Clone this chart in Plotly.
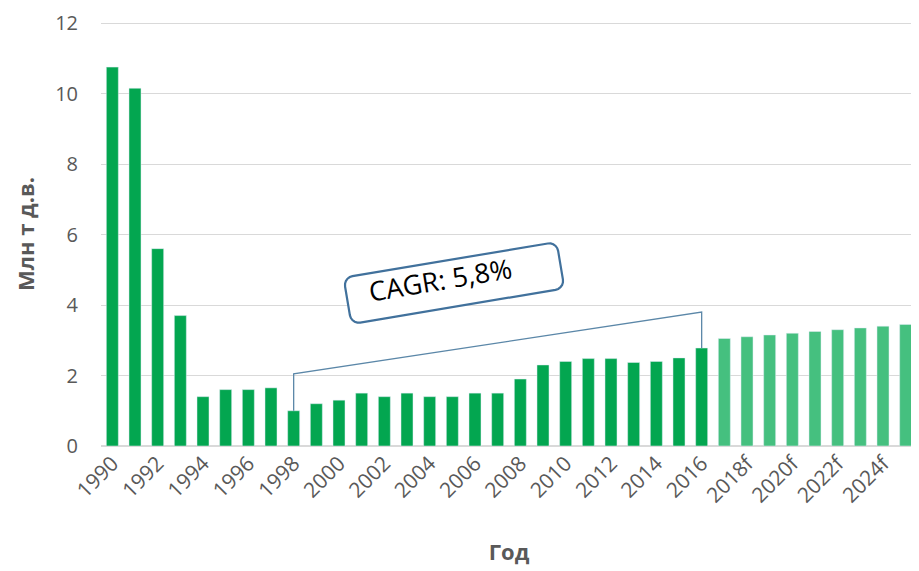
import numpy as np
import plotly.graph_objects as go

years = [str(y) for y in range(1990, 2017)]
years_f = [str(y) + "f" for y in range(2017, 2026)]

values = [10.75, 10.15, 5.6, 3.7, 1.4, 1.6, 1.6, 1.65, 1.0, 1.2, 1.3, 1.5, 1.4,
          1.5, 1.4, 1.4, 1.5, 1.5, 1.9, 2.3, 2.4, 2.48, 2.48, 2.37, 2.4, 2.5, 2.78]
values_f = [3.05, 3.1, 3.15, 3.2, 3.25, 3.3, 3.35, 3.4, 3.45]

cagr_text = "CAGR: 5,8%"
cagr_from, cagr_to = "1998", "2016"

cats = years + years_f
grey = "#595959"

fig = go.Figure()
fig.add_trace(go.Bar(x=years, y=values, marker_color="#03A650", width=0.53))
fig.add_trace(go.Bar(x=years_f, y=values_f, marker_color="#45C07F", width=0.53))

# bracket line for CAGR
i0, i1 = cats.index(cagr_from), cats.index(cagr_to)
v0, v1 = values[i0], values[i1]
fig.add_shape(type="path",
              path=f"M {i0},{v0} L {i0},{2.05} L {i1},{3.8} L {i1},{v1}",
              line=dict(color="#5B87A8", width=1.3), xref="x", yref="y")

# plot area in page pixels (page body has an 8px margin)
L, T, W, H = 101, 22, 816, 424
off = 8

# rotated rounded box (pixel geometry -> paper)
cx, cy, bw, bh, r, ang = 454, 283, 216, 47, 9, np.deg2rad(-9.5)
pts = []
for (ox, oy, a0) in [(bw/2 - r, -bh/2 + r, -90), (bw/2 - r, bh/2 - r, 0),
                     (-bw/2 + r, bh/2 - r, 90), (-bw/2 + r, -bh/2 + r, 180)]:
    for a in np.linspace(a0, a0 + 90, 6):
        pts.append((ox + r*np.cos(np.deg2rad(a)), oy + r*np.sin(np.deg2rad(a))))
path = ""
for k, (px, py) in enumerate(pts):
    rx = cx + px*np.cos(ang) - py*np.sin(ang)
    ry = cy + px*np.sin(ang) + py*np.cos(ang)
    xp, yp = (rx - L)/W, (T + H - ry)/H
    path += ("M" if k == 0 else "L") + f" {xp:.4f},{yp:.4f} "
path += "Z"
fig.add_shape(type="path", path=path, xref="paper", yref="paper",
              line=dict(color="#41719C", width=2.2), fillcolor="white")
fig.add_annotation(x=(cx - 14 - L)/W, y=(T + H - cy + 3)/H, xref="paper", yref="paper",
                   text=cagr_text, showarrow=False, textangle=-9.5,
                   font=dict(size=27, color="black", family="Open Sans"))

fig.update_layout(
    width=919, height=571,
    margin=dict(l=L - off, r=919 - (L - off) - W, t=T - off, b=571 - (T - off) - H),
    plot_bgcolor="white", paper_bgcolor="white",
    showlegend=False, barmode="overlay",
    font=dict(family="Open Sans", color=grey),
)
fig.update_xaxes(categoryorder="array", categoryarray=cats,
                 tickvals=cats[::2], tickangle=-45, automargin=False,
                 tickfont=dict(size=21, color=grey), showgrid=False,
                 title=dict(text="<b>Год</b>", font=dict(size=22, color=grey), standoff=37),
                 range=[-0.5, len(cats) - 0.5])
fig.update_yaxes(range=[0, 12.03], dtick=2, showgrid=True, gridcolor="#D9D9D9",
                 gridwidth=1.3, zeroline=True, zerolinecolor="#D9D9D9",
                 automargin=False,
                 tickfont=dict(size=20, color=grey), ticklabelstandoff=22,
                 title=dict(text="<b>Млн т д.в.</b>", font=dict(size=22, color=grey), standoff=14))

fig.write_html("out.html")
